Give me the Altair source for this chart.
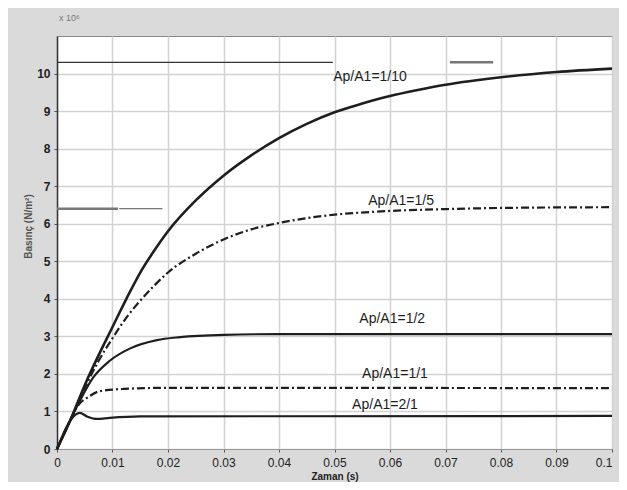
import altair as alt
import pandas as pd

# ---- data ----
t_110 = [0, 0.0025, 0.005, 0.0075, 0.01, 0.0125, 0.015, 0.0175, 0.02, 0.025, 0.03, 0.035, 0.04, 0.045, 0.05, 0.055, 0.06, 0.065, 0.07, 0.08, 0.09, 0.1]
v_110 = [0, 0.8, 1.7, 2.5, 3.25, 4.0, 4.7, 5.28, 5.8, 6.62, 7.28, 7.82, 8.28, 8.66, 8.97, 9.2, 9.4, 9.56, 9.7, 9.9, 10.04, 10.13]

t_15 = [0, 0.0025, 0.005, 0.0075, 0.01, 0.0125, 0.015, 0.0175, 0.02, 0.025, 0.03, 0.035, 0.04, 0.045, 0.05, 0.06, 0.07, 0.08, 0.1]
v_15 = [0, 0.8, 1.62, 2.35, 2.95, 3.5, 3.95, 4.35, 4.7, 5.2, 5.58, 5.85, 6.02, 6.15, 6.24, 6.34, 6.39, 6.42, 6.44]

t_12 = [0, 0.0025, 0.004, 0.0065, 0.0095, 0.0132, 0.018, 0.0222, 0.03, 0.04, 0.1]
v_12 = [0, 0.8, 1.25, 1.9, 2.35, 2.68, 2.9, 2.98, 3.04, 3.06, 3.06]

t_11 = [0, 0.0025, 0.004, 0.0054, 0.0077, 0.012, 0.02, 0.1]
v_11 = [0, 0.8, 1.2, 1.36, 1.54, 1.6, 1.63, 1.62]

t_21 = [0, 0.0025, 0.0041, 0.0055, 0.0072, 0.0095, 0.015, 0.1]
v_21 = [0, 0.78, 0.96, 0.86, 0.80, 0.83, 0.87, 0.88]

series_names = ["1/10", "1/5", "1/2", "1/1", "2/1"]
series_t = [t_110, t_15, t_12, t_11, t_21]
series_v = [v_110, v_15, v_12, v_11, v_21]
series_dash = [False, True, False, True, False]

label_texts = ["Ap/A1=1/10", "Ap/A1=1/5", "Ap/A1=1/2", "Ap/A1=1/1", "Ap/A1=2/1"]
label_t = [0.0564, 0.062, 0.0604, 0.0609, 0.0591]
label_v = [9.92, 6.6, 3.46, 2.0, 1.17]

# stray reference strokes visible in the scan
ref_v = [10.3, 10.3, 6.4, 6.4]
ref_t1 = [0, 0.0708, 0, 0.0112]
ref_t2 = [0.0497, 0.0786, 0.011, 0.019]
ref_col = ["#333333", "#777777", "#777777", "#555555"]
ref_w = [1.2, 2.5, 2.5, 1.0]

x_ticks = [0, 0.01, 0.02, 0.03, 0.04, 0.05, 0.06, 0.07, 0.08, 0.09, 0.1]
y_ticks = [0, 1, 2, 3, 4, 5, 6, 7, 8, 9, 10]

# ---- build tables ----
rows = []
for name, ts, vs in zip(series_names, series_t, series_v):
    for i, (t, v) in enumerate(zip(ts, vs)):
        rows.append({"series": name, "t": t, "v": v, "order": i})
df = pd.DataFrame(rows)

xscale = alt.Scale(domain=[0, 0.1], nice=False, zero=False)
yscale = alt.Scale(domain=[0, 11], nice=False)

xaxis = alt.Axis(values=x_ticks, title="Zaman (s)", grid=True, gridColor="#d2d2d2", gridWidth=1.5,
                 labelExpr="datum.value == 0 ? '0' : (datum.value > 0.0995 ? '0.1' : format(datum.value, '.2f'))",
                 labelAlign={"condition": {"test": "datum.value > 0.0995", "value": "right"}, "value": "center"},
                 labelFont="Liberation Sans", labelFontSize=12, labelColor="#222", labelPadding=5,
                 titleFont="Liberation Sans", titleFontSize=10, titleColor="#222", titlePadding=3,
                 tickSize=3, tickColor="#555", domainColor="#999", labelFlush=False)
yaxis = alt.Axis(values=y_ticks, title="Basınç (N/m²)", grid=True, gridColor="#d2d2d2", gridWidth=1.5,
                 labelFont="Liberation Sans", labelFontSize=12, labelFontWeight="bold", labelColor="#222",
                 labelPadding=4, titleFont="Liberation Sans", titleFontSize=10, titleColor="#555",
                 titleX=-24, titleY=190, titleAngle=270,
                 tickSize=3, tickColor="#555", domainColor="#333", domainWidth=1.5)

layers = []
for name, dash in zip(series_names, series_dash):
    sub = df[df.series == name]
    props = dict(color="#1e1e1e", strokeWidth=2.6 if name == "1/10" else 2.2, interpolate="monotone")
    if dash:
        props["strokeDash"] = [8, 3, 2, 3]
    layers.append(
        alt.Chart(sub).mark_line(**props).encode(
            x=alt.X("t:Q", scale=xscale, axis=xaxis),
            y=alt.Y("v:Q", scale=yscale, axis=yaxis),
            order="order:Q",
        )
    )

ref_df = pd.DataFrame({"v": ref_v, "t1": ref_t1, "t2": ref_t2, "c": ref_col, "w": ref_w})
layers.append(
    alt.Chart(ref_df).mark_rule().encode(
        x=alt.X("t1:Q", scale=xscale), x2="t2:Q", y=alt.Y("v:Q", scale=yscale),
        color=alt.Color("c:N", scale=None), strokeWidth=alt.StrokeWidth("w:Q", scale=None),
    )
)

lab_df = pd.DataFrame({"text": label_texts, "t": label_t, "v": label_v})
layers.append(
    alt.Chart(lab_df).mark_text(font="Liberation Sans", fontSize=14, color="#1e1e1e").encode(
        x=alt.X("t:Q", scale=xscale), y=alt.Y("v:Q", scale=yscale), text="text:N"
    )
)

layers.append(
    alt.Chart(pd.DataFrame({"s": ["x 10⁶"]})).mark_text(
        font="Liberation Sans", fontSize=9, color="#777", align="left").encode(
        x=alt.value(2), y=alt.value(-18), text="s:N")
)

chart = alt.layer(*layers).properties(
    width=555, height=413, autosize="none",
    padding={"left": 49, "top": 28, "right": 7, "bottom": 33},
    background="#dadada",
).configure_view(fill="white", stroke="#888", strokeWidth=1)

chart.save("out.html", embed_options={"renderer": "svg", "actions": False})
